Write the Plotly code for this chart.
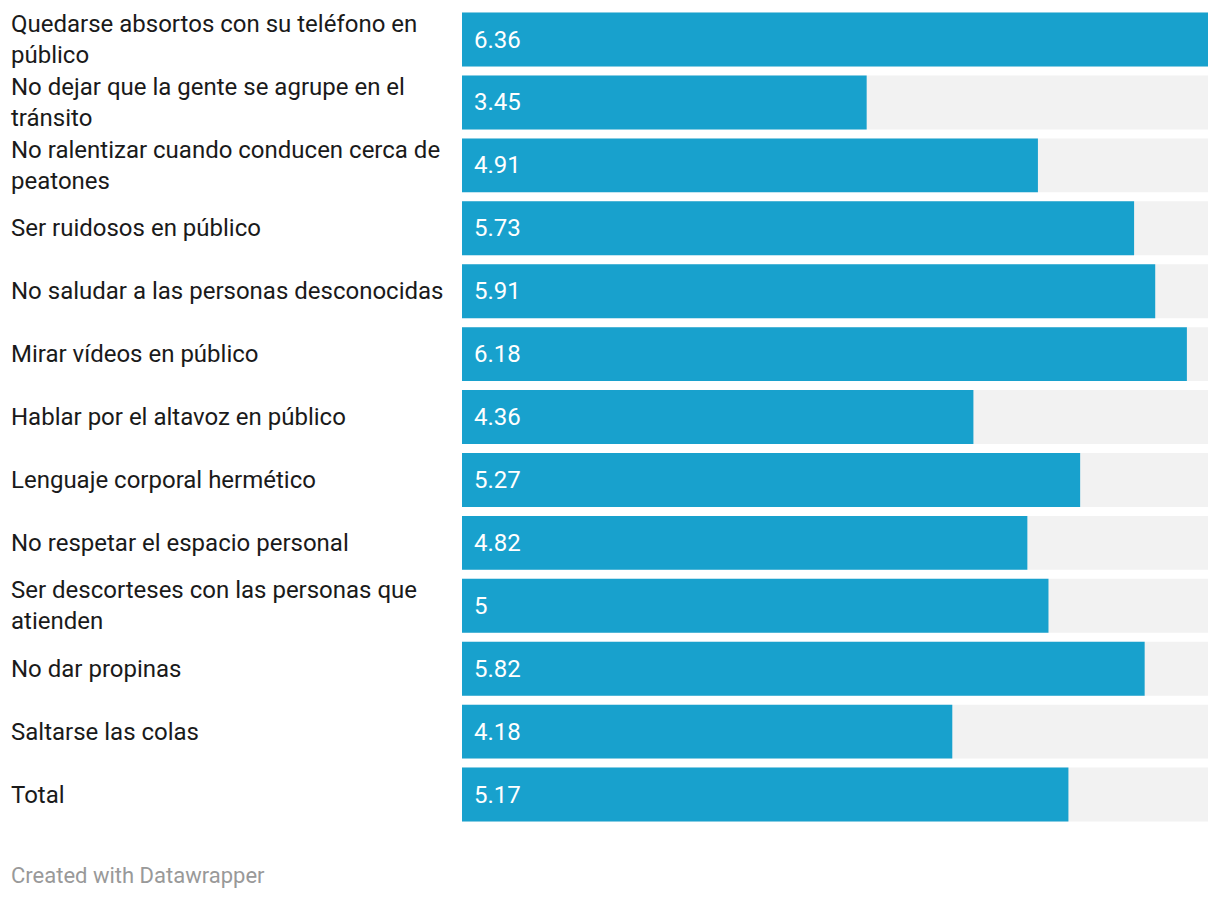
import plotly.graph_objects as go

categories = [
    "Quedarse absortos con su teléfono en<br>público",
    "No dejar que la gente se agrupe en el<br>tránsito",
    "No ralentizar cuando conducen cerca de<br>peatones",
    "Ser ruidosos en público",
    "No saludar a las personas desconocidas",
    "Mirar vídeos en público",
    "Hablar por el altavoz en público",
    "Lenguaje corporal hermético",
    "No respetar el espacio personal",
    "Ser descorteses con las personas que<br>atienden",
    "No dar propinas",
    "Saltarse las colas",
    "Total",
]
values = [6.36, 3.45, 4.91, 5.73, 5.91, 6.18, 4.36, 5.27, 4.82, 5, 5.82, 4.18, 5.17]
value_labels = ["6.36", "3.45", "4.91", "5.73", "5.91", "6.18", "4.36", "5.27", "4.82", "5", "5.82", "4.18", "5.17"]
max_value = 6.36

ids = [f"c{i}" for i in range(len(categories))]
FONT = "Roboto, Arial, sans-serif"

fig = go.Figure()
fig.add_trace(go.Bar(
    y=ids, x=[max_value] * len(ids), orientation="h",
    marker=dict(color="#f2f2f2", line=dict(width=0)),
    width=0.857, hoverinfo="skip", showlegend=False,
))
fig.add_trace(go.Bar(
    y=ids, x=values, orientation="h",
    marker=dict(color="#18a1cd", line=dict(width=0)),
    width=0.857, showlegend=False,
))

for cid, label, vl in zip(ids, categories, value_labels):
    fig.add_annotation(
        x=0, xref="paper", xshift=-453, y=cid, yref="y",
        text=label, showarrow=False, xanchor="left", yanchor="middle",
        align="left", font=dict(size=24, color="#1a1a1a", family=FONT),
    )
    fig.add_annotation(
        x=0, xref="x", xshift=10, y=cid, yref="y",
        text=vl, showarrow=False, xanchor="left", yanchor="middle",
        font=dict(size=24, color="white", family=FONT),
    )

fig.add_annotation(
    x=0, y=0, xref="paper", yref="paper", xshift=-453, yshift=-49,
    text="Created with Datawrapper", showarrow=False, xanchor="left", yanchor="middle",
    font=dict(size=22, color="#999999", family=FONT),
)

fig.update_layout(
    width=1212, height=892,
    margin=dict(l=454, r=12, t=0, b=74, pad=0),
    barmode="overlay",
    plot_bgcolor="white", paper_bgcolor="white",
    xaxis=dict(range=[0, max_value], visible=False, fixedrange=True),
    yaxis=dict(autorange="reversed", visible=False, categoryorder="array", categoryarray=ids),
)

fig.write_html("out.html")
